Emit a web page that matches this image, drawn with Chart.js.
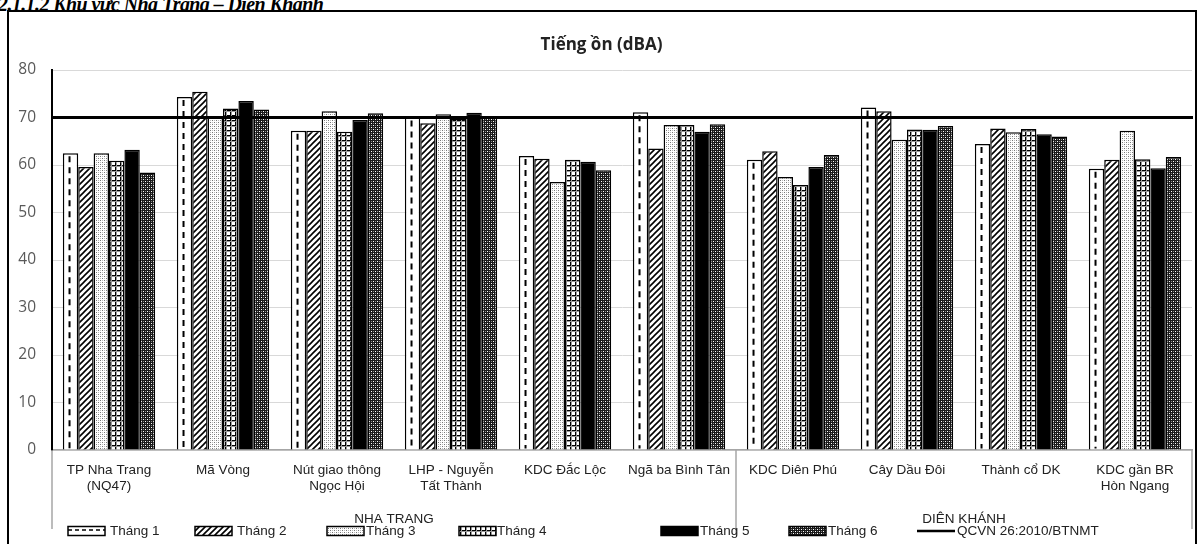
<!DOCTYPE html>
<html><head><meta charset="utf-8">
<script src="https://cdn.jsdelivr.net/npm/chart.js@4.4.0/dist/chart.umd.min.js"></script>
<style>
html,body{margin:0;padding:0;background:#fff;width:1203px;height:544px;overflow:hidden;}
#heading{position:absolute;left:-2px;top:-6px;font:italic bold 20px/20px "Liberation Serif",serif;white-space:nowrap;color:#000;letter-spacing:-0.6px;}
#frame{position:absolute;left:7px;top:10px;width:1190px;height:560px;border:2px solid #000;box-sizing:border-box;background:#fff;}
#wrap{position:absolute;left:0;top:0;width:1203px;height:544px;}
</style></head><body>
<div id="heading">2.1.1.2 Khu vực Nha Trang – Diên Khánh</div>
<div id="frame"></div>
<div id="wrap"><canvas id="c" width="1203" height="544"></canvas></div>
<script>
const categories = [["TP Nha Trang","(NQ47)"],["Mã Vòng"],["Nút giao thông","Ngọc Hội"],["LHP - Nguyễn","Tất Thành"],["KDC Đắc Lộc"],["Ngã ba Bình Tân"],["KDC Diên Phú"],["Cây Dầu Đôi"],["Thành cổ DK"],["KDC gần BR","Hòn Ngang"]];
const groupNames = ["NHA TRANG","DIÊN KHÁNH"];
const groupSizes = [6,4];
const seriesNames = ["Tháng 1","Tháng 2","Tháng 3","Tháng 4","Tháng 5","Tháng 6"];
const thang1 = [62.5,74.3,67.2,70.0,61.9,71.1,61.1,72.1,64.4,59.2];
const thang2 = [59.6,75.4,67.2,68.8,61.3,63.5,62.9,71.3,67.7,61.1];
const thang3 = [62.5,70.0,71.3,70.7,56.4,68.4,57.5,65.3,66.9,67.2];
const thang4 = [60.9,71.9,67.0,69.8,61.1,68.4,55.8,67.5,67.6,61.2];
const thang5 = [63.2,73.5,69.5,71.0,60.7,67.0,59.6,67.4,66.5,59.3];
const thang6 = [58.4,71.7,70.9,70.0,58.9,68.6,62.1,68.2,66.0,61.7];
const qcvnLabel = "QCVN 26:2010/BTNMT";
const qcvnValue = 70;
const chartTitle = "Tiếng ồn (dBA)";
const yMin = 0, yMax = 80, yStep = 10;

const canvas = document.getElementById('c');
const ctx = canvas.getContext('2d');

function pat(size, draw){
  const c = document.createElement('canvas'); c.width = c.height = size;
  const g = c.getContext('2d'); draw(g, size);
  return ctx.createPattern(c, 'repeat');
}
const pT2 = pat(6,(g,s)=>{g.fillStyle='#fff';g.fillRect(0,0,s,s);g.strokeStyle='#000';g.lineWidth=1.6;
  g.beginPath();g.moveTo(0,s);g.lineTo(s,0);g.moveTo(-1,1);g.lineTo(1,-1);g.moveTo(s-1,s+1);g.lineTo(s+1,s-1);g.stroke();});
const pT3 = pat(4,(g,s)=>{g.fillStyle='#fff';g.fillRect(0,0,s,s);g.fillStyle='#777';g.fillRect(0,0,1,1);g.fillRect(2,2,1,1);
  g.fillStyle='#bbb';g.fillRect(2,0,1,1);g.fillRect(0,2,1,1);});
const pT4 = pat(5,(g,s)=>{g.fillStyle='#fff';g.fillRect(0,0,s,s);g.fillStyle='#000';g.fillRect(0,0,s,1);g.fillRect(0,0,1,s);
  g.fillStyle='#999';g.fillRect(0,1,s,1);g.fillRect(1,0,1,s);});
const pT6 = pat(4,(g,s)=>{g.fillStyle='#1a1a1a';g.fillRect(0,0,s,s);g.fillStyle='#fff';g.fillRect(1,1,1,1);g.fillRect(3,3,1,1);
  g.fillStyle='#888';g.fillRect(1,3,1,1);g.fillRect(3,1,1,1);});
const fills = ['#ffffff', pT2, pT3, pT4, '#000000', pT6];
const values = [thang1,thang2,thang3,thang4,thang5,thang6];

const FONT_CAT = '"Liberation Sans", Arial, sans-serif';

const decor = {
  id:'decor',
  afterDatasetsDraw(chart){
    const {ctx, chartArea:a, scales:{y}} = chart;
    const meta = chart.getDatasetMeta(0);
    ctx.save();
    ctx.strokeStyle='#000'; ctx.lineWidth=2; ctx.setLineDash([6,5]);
    meta.data.forEach(el=>{ctx.beginPath();ctx.moveTo(el.x-1, el.y+3);ctx.lineTo(el.x-1, el.base-1);ctx.stroke();});
    ctx.setLineDash([]);
    const yy = y.getPixelForValue(qcvnValue);
    ctx.lineWidth=3; ctx.beginPath(); ctx.moveTo(a.left, yy); ctx.lineTo(a.right+1, yy); ctx.stroke();
    ctx.restore();
  },
  afterDraw(chart){
    const {ctx, chartArea:a, scales:{x}} = chart;
    ctx.save();
    ctx.fillStyle='#222'; ctx.font='bold 17px "Open Sans", sans-serif';
    ctx.textAlign='center'; ctx.textBaseline='middle';
    ctx.fillText(chartTitle, chart.width/2, 45);
    const bounds=[a.left]; let idx=0;
    groupSizes.forEach((n)=>{idx+=n; if(idx<categories.length){bounds.push((x.getPixelForValue(idx-1)+x.getPixelForValue(idx))/2);} else bounds.push(a.right);});
    ctx.strokeStyle='#a6a6a6'; ctx.lineWidth=1.5;
    bounds.forEach((bx,i)=>{ctx.beginPath();ctx.moveTo(bx,a.bottom);ctx.lineTo(bx, i===1?535:529);ctx.stroke();});
    ctx.fillStyle='#222'; ctx.font='13.5px '+FONT_CAT;
    groupNames.forEach((g,i)=>{ctx.fillText(g,(bounds[i]+bounds[i+1])/2,519);});
    const ly=531;
    const sw=[[68,110],[195,237],[327,366],[459,497],[661,700],[789,828],[917,957]];
    ctx.textAlign='left';
    for(let i=0;i<6;i++){
      const [sx,tx]=sw[i];
      ctx.fillStyle=fills[i]; ctx.fillRect(sx,ly-4.5,37,9);
      ctx.strokeStyle='#000'; ctx.lineWidth=1.5; ctx.strokeRect(sx,ly-4.5,37,9);
      if(i===0){ctx.setLineDash([4,3]);ctx.beginPath();ctx.moveTo(sx,ly-1);ctx.lineTo(sx+37,ly-1);ctx.stroke();ctx.setLineDash([]);}
      ctx.fillStyle='#222'; ctx.fillText(seriesNames[i],tx,ly);
    }
    ctx.strokeStyle='#000'; ctx.lineWidth=2.5; ctx.beginPath(); ctx.moveTo(sw[6][0],ly); ctx.lineTo(sw[6][1]-2,ly); ctx.stroke();
    ctx.fillStyle='#222'; ctx.fillText(qcvnLabel, sw[6][1], ly);
    ctx.restore();
  }
};

new Chart(ctx, {
  type:'bar',
  data:{
    labels:categories,
    datasets: values.map((v,i)=>({label:seriesNames[i], data:v, backgroundColor:fills[i], borderColor:'#000', borderWidth:1.5,
      categoryPercentage:0.81, barPercentage:1.0}))
  },
  options:{
    responsive:false, animation:false, devicePixelRatio:1,
    layout:{padding:{left:0,right:11,top:70,bottom:0}},
    plugins:{legend:{display:false}, title:{display:false}, tooltip:{enabled:false}},
    scales:{
      x:{grid:{display:false,drawTicks:false}, border:{color:'#a6a6a6',width:1.5},
         ticks:{color:'#222',font:{family:FONT_CAT,size:13.5},padding:12,maxRotation:0,autoSkip:false},
         afterFit(s){s.height=94;}},
      y:{min:yMin,max:yMax, ticks:{stepSize:yStep,color:'#595959',font:{family:'"Open Sans", sans-serif',size:15.5},padding:16},
         grid:{color:'#d9d9d9',drawTicks:false}, border:{color:'#000',width:2},
         afterFit(s){s.width=52;}}
    }
  },
  plugins:[decor]
});
</script>
</body></html>
